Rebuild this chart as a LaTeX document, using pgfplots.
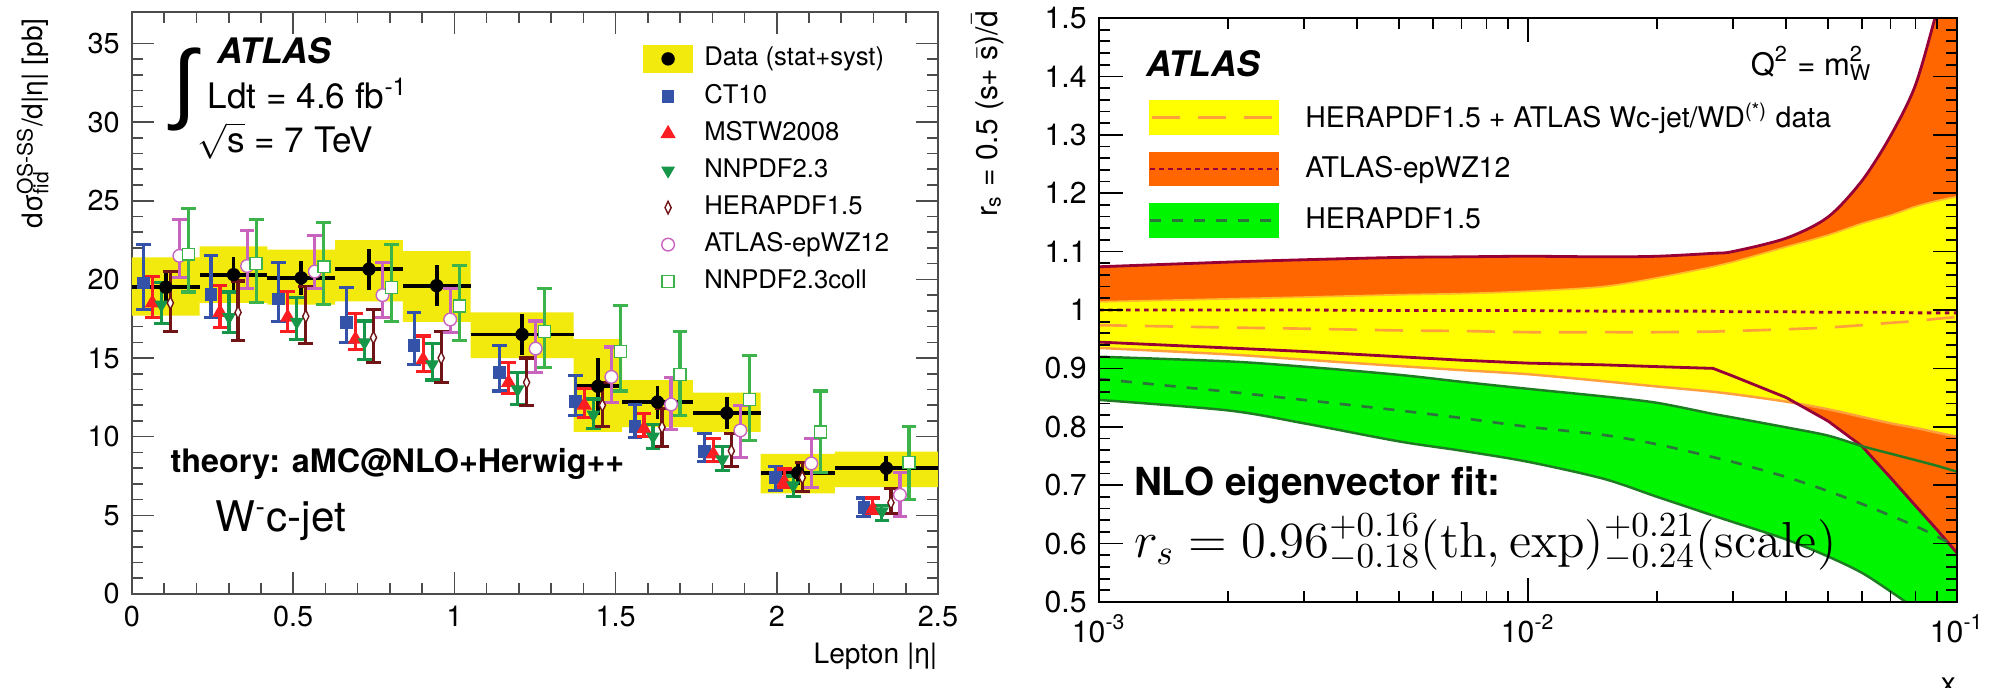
\documentclass[border=0pt]{standalone}
\usepackage[no-math]{fontspec}
\setmainfont{TeX Gyre Heros}
\newfontfamily\symfont{Liberation Sans}
\usepackage{graphicx}
\usepackage{pgfplots}
\pgfplotsset{compat=1.18}
\usepackage{pgfplotstable}
\usepgfplotslibrary{fillbetween}

\definecolor{datayellow}{RGB}{242,234,12}
\definecolor{ctblue}{RGB}{52,82,168}
\definecolor{mstwred}{RGB}{250,30,35}
\definecolor{nnpdfgreen}{RGB}{22,150,72}
\definecolor{herabrown}{RGB}{112,20,22}
\definecolor{epwzpink}{RGB}{200,100,190}
\definecolor{collgreen}{RGB}{60,180,75}
\definecolor{bandyellow}{RGB}{255,255,0}
\definecolor{bandorange}{RGB}{255,102,0}
\definecolor{bandgreen}{RGB}{0,245,0}
\definecolor{edgered}{RGB}{150,0,55}
\definecolor{edgeorange}{RGB}{255,160,60}
\definecolor{edgegreen}{RGB}{30,125,35}
\definecolor{dashgreen}{RGB}{45,115,60}

% ---------- W- c-jet cross section versus lepton |eta| ----------
% measured points: bin centre, half width, value, stat. error
\pgfplotstableread{
c hw v e
0.105 0.105 19.5 1.0
0.315 0.105 20.3 1.1
0.525 0.105 20.1 1.1
0.735 0.105 20.65 1.3
0.945 0.105 19.6 1.3
1.21 0.16 16.5 1.3
1.445 0.075 13.2 1.8
1.63 0.11 12.2 1.05
1.845 0.105 11.5 1.0
2.065 0.115 7.7 0.75
2.34 0.16 8.0 0.8
}\wcdata
% stat+syst boxes, one rectangle per bin (corners, separated by nan)
\pgfplotstableread{
x y
0 17.7
0.21 17.7
0.21 21.4
0 21.4
nan nan
0.21 18.5
0.42 18.5
0.42 22.1
0.21 22.1
nan nan
0.42 18.4
0.63 18.4
0.63 21.9
0.42 21.9
nan nan
0.63 18.6
0.84 18.6
0.84 22.5
0.63 22.5
nan nan
0.84 17.3
1.05 17.3
1.05 21.8
0.84 21.8
nan nan
1.05 15.0
1.37 15.0
1.37 17.9
1.05 17.9
nan nan
1.37 10.3
1.52 10.3
1.52 16.2
1.37 16.2
nan nan
1.52 10.6
1.74 10.6
1.74 13.6
1.52 13.6
nan nan
1.74 10.3
1.95 10.3
1.95 12.8
1.74 12.8
nan nan
1.95 6.4
2.18 6.4
2.18 8.9
1.95 8.9
nan nan
2.18 6.8
2.5 6.8
2.5 9.05
2.18 9.05
}\wcband
% predictions: bin centre, central value, upper and lower limit
\pgfplotstableread{
c v hi lo
0.105 19.76 22.2 18.1
0.315 19.05 21.5 17.6
0.525 18.75 21.1 17.3
0.735 17.25 19.5 16.0
0.945 15.8 17.9 14.6
1.21 14.1 15.8 12.9
1.445 12.25 13.9 11.35
1.63 10.65 12.05 9.95
1.845 9.05 10.2 8.4
2.065 7.4 8.1 6.6
2.34 5.5 6.1 4.9
}\thCT
\pgfplotstableread{
c v hi lo
0.105 18.5 20.2 17.6
0.315 17.9 19.6 16.95
0.525 17.6 19.25 16.7
0.735 16.2 17.85 15.55
0.945 14.9 16.4 14.15
1.21 13.45 14.7 12.75
1.445 12.0 13.05 11.2
1.63 10.5 11.5 10.0
1.845 8.9 9.9 8.4
2.065 7.15 7.95 6.75
2.34 5.4 6.1 5.15
}\thMSTW
\pgfplotstableread{
c v hi lo
0.105 18.4 19.8 17.2
0.315 17.6 19.2 16.6
0.525 17.3 18.85 16.2
0.735 16.0 17.35 14.9
0.945 14.6 15.9 13.6
1.21 13.0 14.1 12.05
1.445 11.4 12.4 10.5
1.63 10.0 10.75 9.25
1.845 8.55 9.35 7.85
2.065 6.9 7.5 6.2
2.34 5.25 5.65 4.65
}\thNNPDF
\pgfplotstableread{
c v hi lo
0.105 18.5 20.5 16.7
0.315 17.9 19.9 16.1
0.525 17.65 19.55 15.9
0.735 16.3 18.1 14.7
0.945 15.0 16.7 13.45
1.21 13.45 15.0 12.0
1.445 12.0 13.45 10.65
1.63 10.6 11.8 9.4
1.845 9.1 10.2 8.1
2.065 7.4 8.35 6.5
2.34 5.8 6.7 5.1
}\thHERA
\pgfplotstableread{
c v hi lo
0.105 21.5 23.8 20.1
0.315 20.85 23.1 19.4
0.525 20.5 22.8 19.4
0.735 19.0 21.1 17.6
0.945 17.45 19.4 16.6
1.21 15.6 17.35 14.1
1.445 13.8 15.7 12.2
1.63 12.05 13.75 10.45
1.845 10.4 12.0 8.7
2.065 8.3 9.9 6.75
2.34 6.3 7.7 4.9
}\thEPWZ
\pgfplotstableread{
c v hi lo
0.105 21.6 24.5 19.2
0.315 21.0 23.8 18.55
0.525 20.8 23.6 18.4
0.735 19.5 22.2 17.3
0.945 18.3 20.9 16.1
1.21 16.7 19.4 14.4
1.445 15.4 18.35 12.9
1.63 13.95 16.7 11.35
1.845 12.35 15.15 9.75
2.065 10.3 12.9 7.7
2.34 8.35 10.65 6.0
}\thCOLL

% ---------- strange-sea ratio r_s versus x ----------
% y: HERAPDF1.5 + ATLAS Wc-jet/WD, o: ATLAS-epWZ12, g: HERAPDF1.5
\pgfplotstableread{
x yhi ylo ymid ohi olo omid ghi glo gmid
0.001 1.014 0.935 0.974 1.074 0.945 1.000 0.920 0.846 0.882
0.002 1.019 0.924 0.970 1.082 0.935 1.000 0.912 0.828 0.860
0.003 1.022 0.915 0.968 1.086 0.929 1.000 0.903 0.806 0.846
0.005 1.026 0.904 0.965 1.090 0.920 0.999 0.889 0.775 0.828
0.007 1.028 0.897 0.964 1.091 0.914 0.999 0.877 0.759 0.815
0.01 1.032 0.890 0.962 1.092 0.909 0.999 0.865 0.740 0.800
0.015 1.040 0.878 0.962 1.091 0.906 0.998 0.852 0.711 0.786
0.02 1.055 0.869 0.962 1.092 0.903 0.998 0.841 0.680 0.770
0.027 1.074 0.860 0.963 1.097 0.900 0.998 0.822 0.648 0.748
0.03 1.082 0.856 0.964 1.100 0.887 0.997 0.816 0.637 0.740
0.04 1.108 0.843 0.967 1.123 0.850 0.997 0.799 0.607 0.714
0.05 1.128 0.830 0.970 1.159 0.810 0.996 0.785 0.578 0.690
0.06 1.148 0.817 0.974 1.221 0.767 0.996 0.767 0.550 0.668
0.07 1.162 0.806 0.978 1.298 0.713 0.996 0.754 0.518 0.648
0.08 1.177 0.798 0.981 1.385 0.665 0.995 0.743 0.488 0.630
0.09 1.187 0.790 0.985 1.515 0.623 0.995 0.733 0.458 0.612
0.1 1.194 0.783 0.988 1.640 0.584 0.995 0.723 0.428 0.594
}\rstab

\pgfplotsset{
  theory/.style={only marks, mark options={line width=0.6pt},
    error bars/y dir=both, error bars/y explicit,
    error bars/error bar style={line width=0.9pt, solid},
    error bars/error mark options={rotate=90, mark size=2.1pt, line width=0.9pt}},
  /pgfplots/table/thtable/.style={x expr=\thisrow{c}+(#1), y=v,
    y error plus expr=\thisrow{hi}-\thisrow{v},
    y error minus expr=\thisrow{v}-\thisrow{lo}},
}

\begin{document}
\begin{tikzpicture}

% ================= left panel =================
\begin{axis}[
  at={(13.2mm,9.4mm)}, anchor=south west,
  scale only axis, width=80.6mm, height=58.2mm,
  xmin=0, xmax=2.5, ymin=0, ymax=37,
  xtick={0,0.5,1,1.5,2,2.5}, minor x tick num=4,
  ytick={0,5,10,15,20,25,30,35}, minor y tick num=4,
  tick pos=both, tick align=inside,
  major tick length=2.2mm, minor tick length=1.1mm,
  axis line style={line width=0.5pt, black!70},
  tick style={black!70, line width=0.45pt},
  /pgf/number format/assume math mode=true,
  ticklabel style={font=\fontsize{8.2}{9}\selectfont},
  xlabel={Lepton |η|},
  xlabel style={at={(axis description cs:1,-0.1186)}, anchor=base east, inner sep=0pt, font=\fontsize{8}{9}\selectfont},
  ylabel={dσ\makebox[0pt][l]{\textsubscript{fid}}\textsuperscript{OS-SS}/d|η| [pb]},
  ylabel style={at={(axis description cs:-0.123,0.99)}, anchor=east, inner sep=0pt, font=\fontsize{8}{9}\selectfont},
  legend style={draw=none, fill=none, inner sep=0pt, at={(axis description cs:0.633,0.945)}, anchor=north west,
    row sep=1.0mm, column sep=1.1mm, nodes={inner sep=0pt}, font=\fontsize{7.3}{8}\selectfont},
  legend cell align=left,
  legend image code/.code={\path[draw=none, fill=none] (0mm,-1.35mm) rectangle (4.9mm,1.35mm);
    \draw[mark repeat=2, mark phase=2, #1] plot coordinates {(0mm,0mm) (2.45mm,0mm) (4.9mm,0mm)};},
]
\addplot[fill=datayellow, draw=none, unbounded coords=jump, forget plot] table[x=x, y=y]{\wcband};

\addplot[black, only marks, mark=*, mark size=1.7pt,
  legend image code/.code={\fill[datayellow] (0mm,-1.35mm) rectangle (4.9mm,1.35mm);
    \fill[black] (2.45mm,0mm) circle (1.7pt);},
  error bars/x dir=both, error bars/x explicit, error bars/y dir=both, error bars/y explicit,
  error bars/error mark=none, error bars/error bar style={line width=1.1pt}]
  table[x=c, y=v, x error=hw, y error=e]{\wcdata};
\addlegendentry{Data (stat+syst)}

\addplot[theory, ctblue, mark=square*, mark size=1.5pt] table[thtable=-0.07]{\thCT};
\addlegendentry{CT10}
\addplot[theory, mstwred, mark=triangle*, mark size=1.9pt] table[thtable=-0.042]{\thMSTW};
\addlegendentry{MSTW2008}
\addplot[theory, nnpdfgreen, mark=triangle*, mark size=1.9pt, mark options={rotate=180}] table[thtable=-0.014]{\thNNPDF};
\addlegendentry{NNPDF2.3}
\addplot[theory, herabrown, mark=diamond*, mark size=1.8pt, mark options={fill=white, xscale=0.65}] table[thtable=0.014]{\thHERA};
\addlegendentry{HERAPDF1.5}
\addplot[theory, epwzpink, mark=*, mark size=1.8pt, mark options={fill=white}] table[thtable=0.042]{\thEPWZ};
\addlegendentry{ATLAS-epWZ12}
\addplot[theory, collgreen, mark=square*, mark size=1.7pt, mark options={fill=white}] table[thtable=0.07]{\thCOLL};
\addlegendentry{NNPDF2.3coll}

\node[anchor=center, inner sep=0pt, font=\symfont\fontsize{25}{25}\selectfont] at (axis description cs:0.065,0.866) {∫};
\node[anchor=base west, inner sep=0pt, font=\fontsize{10}{12}\selectfont\bfseries\itshape] at (axis description cs:0.105,0.912) {ATLAS};
\node[anchor=base west, inner sep=0pt, font=\fontsize{10}{12}\selectfont] at (axis description cs:0.093,0.835) {Ldt = 4.6 fb\textsuperscript{-1}};
\node[anchor=base west, inner sep=0pt, font=\fontsize{10}{12}\selectfont] at (axis description cs:0.081,0.759) {$\sqrt{\mbox{s}}$ = 7 TeV};
\node[anchor=base west, inner sep=0pt, font=\fontsize{9.2}{11}\selectfont\bfseries] at (axis description cs:0.047,0.208) {theory: aMC@NLO+Herwig++};
\node[anchor=base west, inner sep=0pt, font=\fontsize{12}{14}\selectfont] at (axis description cs:0.103,0.107) {W\textsuperscript{-}c-jet};
\end{axis}

% ================= right panel =================
\begin{axis}[
  at={(109.9mm,8.6mm)}, anchor=south west,
  scale only axis, width=85.8mm, height=58.4mm,
  xmode=log, xmin=1e-3, xmax=1e-1, ymin=0.5, ymax=1.5,
  xtick={0.001,0.01,0.1},
  xticklabels={10\textsuperscript{-3},10\textsuperscript{-2},10\textsuperscript{-1}},
  ytick={0.5,0.6,0.7,0.8,0.9,1,1.1,1.2,1.3,1.4,1.5}, minor y tick num=4,
  tick pos=both, tick align=inside, axis on top,
  major tick length=2.4mm, minor tick length=1.1mm,
  axis line style={line width=0.8pt, black},
  tick style={black, line width=0.5pt},
  /pgf/number format/assume math mode=true,
  ticklabel style={font=\fontsize{8.6}{10}\selectfont},
  xlabel={x},
  xlabel style={at={(axis description cs:0.99,-0.128)}, anchor=north, inner sep=0pt, font=\fontsize{8.5}{10}\selectfont},
  ylabel={r\textsubscript{s} = 0.5 (s+ $\bar{\mbox{s}}$)/$\bar{\mbox{d}}$},
  ylabel style={at={(axis description cs:-0.13,1.014)}, anchor=east, inner sep=0pt, font=\fontsize{8.5}{10}\selectfont},
  legend style={draw=none, fill=none, inner sep=0pt, at={(axis description cs:0.057,0.86)}, anchor=north west,
    row sep=1.7mm, column sep=2.6mm, nodes={inner sep=0pt}, font=\fontsize{8.1}{9}\selectfont},
  legend cell align=left,
]
% boundaries used for the fills
\addplot[draw=none, smooth, name path=yh, forget plot] table[x=x, y=yhi]{\rstab};
\addplot[draw=none, smooth, name path=yl, forget plot] table[x=x, y=ylo]{\rstab};
\addplot[draw=none, smooth, name path=oh, forget plot] table[x=x, y=ohi]{\rstab};
\addplot[draw=none, name path=ol, forget plot] table[x=x, y=olo]{\rstab};
\addplot[draw=none, smooth, name path=gh, forget plot] table[x=x, y=ghi]{\rstab};
\addplot[draw=none, smooth, name path=gl, forget plot] table[x=x, y=glo]{\rstab};
\addplot[bandgreen, forget plot] fill between[of=gh and gl];
\addplot[bandorange, forget plot] fill between[of=oh and ol];
\addplot[bandyellow, forget plot] fill between[of=yh and yl];
% band edges and central curves
\addplot[edgeorange!70!bandyellow, smooth, line width=0.5pt, forget plot] table[x=x, y=yhi]{\rstab};
\addplot[edgeorange, smooth, line width=0.7pt, forget plot] table[x=x, y=ylo]{\rstab};
\addplot[edgered, smooth, line width=0.8pt, forget plot] table[x=x, y=ohi]{\rstab};
\addplot[edgered, line width=0.8pt, forget plot] table[x=x, y=olo]{\rstab};
\addplot[edgegreen, smooth, line width=0.7pt, forget plot] table[x=x, y=ghi]{\rstab};
\addplot[edgegreen, smooth, line width=0.7pt, forget plot] table[x=x, y=glo]{\rstab};
\addplot[edgeorange, smooth, line width=0.75pt, dash pattern=on 2.8mm off 1.8mm, forget plot] table[x=x, y=ymid]{\rstab};
\addplot[edgered, line width=0.8pt, dash pattern=on 0.45mm off 0.45mm, forget plot] table[x=x, y=omid]{\rstab};
\addplot[dashgreen, smooth, line width=0.75pt, dash pattern=on 1.1mm off 1.1mm, forget plot] table[x=x, y=gmid]{\rstab};

\addlegendimage{legend image code/.code={\fill[bandyellow] (0mm,-1.65mm) rectangle (12.8mm,1.65mm);
  \draw[edgeorange, line width=0.75pt, dash pattern=on 2.8mm off 1.8mm] (0.2mm,0mm) -- (12.8mm,0mm);}}
\addlegendentry{HERAPDF1.5 + ATLAS Wc-jet/WD\textsuperscript{(*)} data}
\addlegendimage{legend image code/.code={\fill[bandorange] (0mm,-1.65mm) rectangle (12.8mm,1.65mm);
  \draw[edgered, line width=0.8pt, dash pattern=on 0.45mm off 0.45mm] (0mm,0mm) -- (12.8mm,0mm);}}
\addlegendentry{ATLAS-epWZ12}
\addlegendimage{legend image code/.code={\fill[bandgreen] (0mm,-1.65mm) rectangle (12.8mm,1.65mm);
  \draw[dashgreen, line width=0.75pt, dash pattern=on 1.1mm off 1.1mm] (0mm,0mm) -- (12.8mm,0mm);}}
\addlegendentry{HERAPDF1.5}

\node[anchor=base west, inner sep=0pt, font=\fontsize{10}{12}\selectfont\bfseries\itshape] at (axis description cs:0.054,0.899) {ATLAS};
\node[anchor=base west, inner sep=0pt, font=\fontsize{8.8}{10}\selectfont] at (axis description cs:0.759,0.902) {Q\textsuperscript{2} = m\makebox[0pt][l]{\textsuperscript{2}}\textsubscript{W}};
\node[anchor=base west, inner sep=0pt, font=\fontsize{11}{13}\selectfont\bfseries] at (axis description cs:0.040,0.183) {NLO eigenvector fit:};
\node[anchor=base west, inner sep=0pt, font=\fontsize{14}{16}\selectfont] at (axis description cs:0.040,0.077)
  {$r_s = 0.96^{+0.16}_{-0.18}(\mathrm{th},\exp)^{+0.21}_{-0.24}(\mathrm{scale})$};
\end{axis}

% fix the picture to the canvas
\pgfresetboundingbox
\useasboundingbox (0,0) rectangle (200.2mm,68.8mm);
\end{tikzpicture}
\end{document}
